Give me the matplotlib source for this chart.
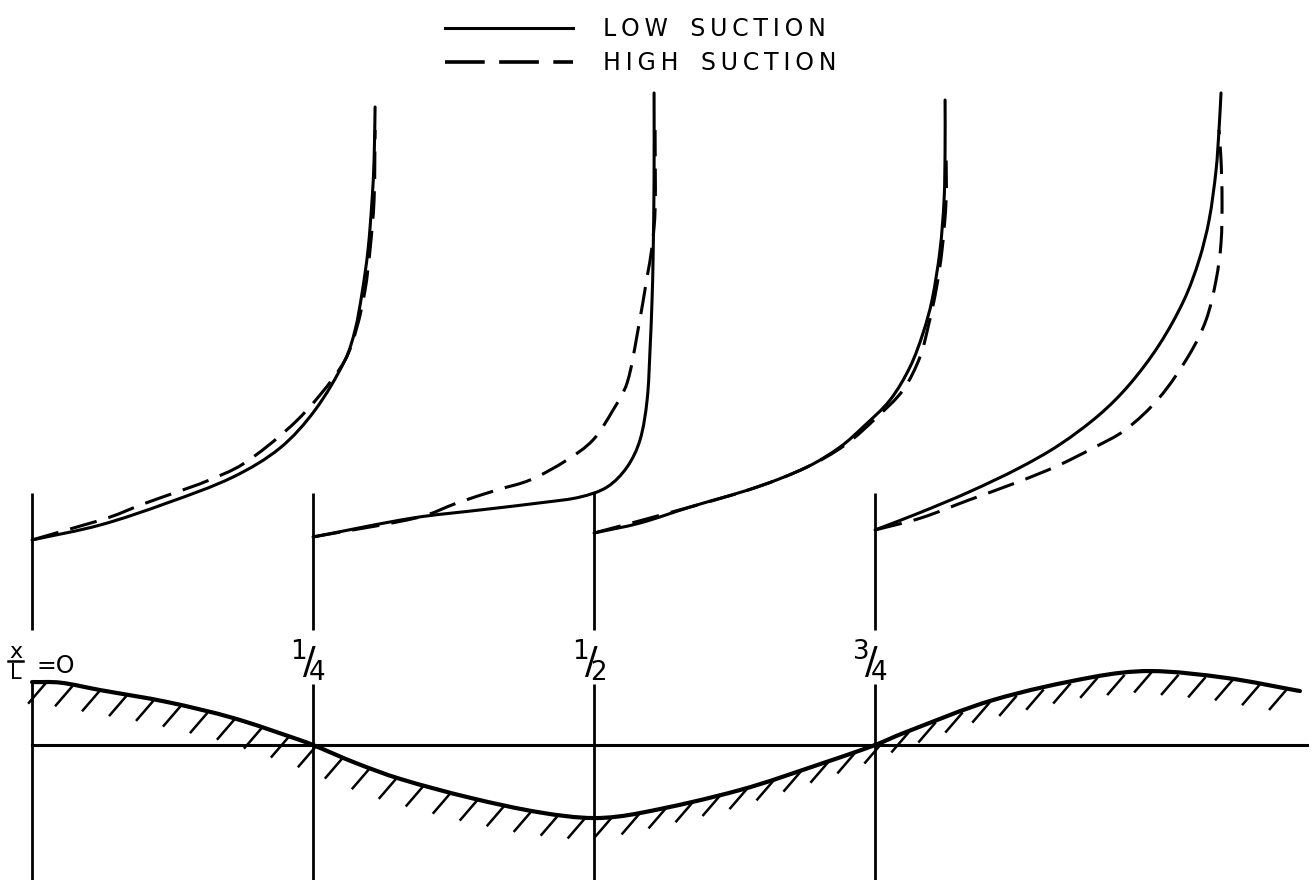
import numpy as np
import matplotlib.pyplot as plt
from matplotlib.lines import Line2D
from matplotlib.path import Path
from matplotlib.patches import PathPatch

# stations along the wall (x/L)
stations = [0.0, 0.25, 0.5, 0.75]
station_labels = [r'$^{1}\!/\!_{4}$', r'$^{1}\!/\!_{2}$', r'$^{3}\!/\!_{4}$']

# wall contour: x/L and height above the datum line (units of L)
wall_x = [0.0, 0.025, 0.0605, 0.120, 0.179, 0.238, 0.25, 0.288, 0.327, 0.39, 0.452, 0.5,
          0.541, 0.63, 0.704, 0.75, 0.775, 0.855, 0.944, 0.995, 1.063, 1.128]
wall_y = [0.056, 0.0555, 0.0489, 0.0383, 0.024, 0.0045, 0.0, -0.016, -0.030, -0.047, -0.060, -0.065,
          -0.0605, -0.040, -0.016, 0.0, 0.0105, 0.040, 0.0605, 0.0658, 0.0596, 0.048]

# profiles: offset u from the station line, height y above datum (units of L)
low0_u = [0, 0.0605, 0.1201, 0.1788, 0.2206, 0.2518, 0.2785, 0.2874, 0.2936, 0.2989, 0.3025, 0.3043, 0.3052]
low0_y = [0.1824, 0.1957, 0.2153, 0.2384, 0.2642, 0.2980, 0.3425, 0.3692, 0.4021, 0.4404, 0.4849, 0.5205, 0.5676]
high0_u = [0, 0.0276, 0.0694, 0.0988, 0.1290, 0.1557, 0.1877, 0.2295, 0.2562, 0.2785, 0.2891, 0.2963, 0.3007, 0.3043, 0.3052]
high0_y = [0.1824, 0.1904, 0.2028, 0.2144, 0.2251, 0.2349, 0.2500, 0.2829, 0.3114, 0.3425, 0.3719, 0.4048, 0.4404, 0.4849, 0.5472]

low1_u = [0, 0.0890, 0.1486, 0.2082, 0.2375, 0.2616, 0.2794, 0.2909, 0.2972, 0.2998, 0.3016, 0.3025, 0.3034, 0.3034]
low1_y = [0.1851, 0.2020, 0.2091, 0.2162, 0.2206, 0.2295, 0.2473, 0.2714, 0.3069, 0.3514, 0.3959, 0.4315, 0.5027, 0.5801]
high1_u = [0, 0.0952, 0.1281, 0.1637, 0.1931, 0.2260, 0.2491, 0.2669, 0.2794, 0.2891, 0.2972, 0.3016, 0.3043, 0.3043]
high1_y = [0.1851, 0.2028, 0.2153, 0.2269, 0.2358, 0.2536, 0.2714, 0.2980, 0.3221, 0.3692, 0.4164, 0.4431, 0.4760, 0.5472]

low2_u = [0, 0.0409, 0.0854, 0.1450, 0.1895, 0.2189, 0.2393, 0.2633, 0.2811, 0.2927, 0.3007, 0.3078, 0.3114, 0.3123, 0.3123]
low2_y = [0.1886, 0.1975, 0.2117, 0.2295, 0.2473, 0.2651, 0.2829, 0.3069, 0.3363, 0.3665, 0.3959, 0.4404, 0.4849, 0.5294, 0.5738]
high2_u = [0, 0.0854, 0.1450, 0.1895, 0.2233, 0.2518, 0.2749, 0.2900, 0.2972, 0.3043, 0.3096, 0.3132, 0.3132]
high2_y = [0.1886, 0.2117, 0.2295, 0.2473, 0.2669, 0.2918, 0.3158, 0.3452, 0.3719, 0.4048, 0.4404, 0.4849, 0.5294]

low3_u = [0, 0.0391, 0.0836, 0.1281, 0.1637, 0.1993, 0.2260, 0.2527, 0.2749, 0.2883, 0.2972, 0.3034, 0.3060, 0.3078]
low3_y = [0.1913, 0.2064, 0.2251, 0.2464, 0.2669, 0.2936, 0.3203, 0.3559, 0.3959, 0.4315, 0.4671, 0.5116, 0.5472, 0.5801]
high3_u = [0, 0.0409, 0.0836, 0.1272, 0.1619, 0.1940, 0.2224, 0.2527, 0.2794, 0.2945, 0.3034, 0.3078, 0.3087, 0.3078, 0.3060]
high3_y = [0.1913, 0.2020, 0.2180, 0.2340, 0.2482, 0.2642, 0.2802, 0.3087, 0.3470, 0.3781, 0.4137, 0.4466, 0.4849, 0.5205, 0.5472]

low_profiles = [(low0_u, low0_y), (low1_u, low1_y), (low2_u, low2_y), (low3_u, low3_y)]
high_profiles = [(high0_u, high0_y), (high1_u, high1_y), (high2_u, high2_y), (high3_u, high3_y)]


def smooth_path(x, y):
    # bezier path through the read points, tangents scaled by chord length
    p = np.column_stack([x, y]).astype(float)
    d = np.diff(p, axis=0)
    seg = np.hypot(d[:, 0], d[:, 1])
    t = np.zeros_like(p)
    t[1:-1] = p[2:] - p[:-2]
    t[0] = d[0]
    t[-1] = d[-1]
    t = t / np.hypot(t[:, 0], t[:, 1])[:, None]
    verts = [p[0]]
    codes = [Path.MOVETO]
    for i in range(len(p) - 1):
        verts += [p[i] + t[i] * seg[i] / 3, p[i + 1] - t[i + 1] * seg[i] / 3, p[i + 1]]
        codes += [Path.CURVE4] * 3
    return Path(verts, codes)


fig = plt.figure(figsize=(13.16, 8.8), dpi=100)
ax = fig.add_axes([0, 0, 1, 1])
ax.set_xlim(-0.0285, 1.1423)
ax.set_ylim(-0.1201, 0.6628)
ax.axis('off')

ink = 'black'
dash = (0, (9, 4))

# station lines, broken for the labels
for i, s in enumerate(stations):
    ax.plot([s, s], [0.2245, 0.102], color=ink, lw=2.0, solid_capstyle='butt')
    ax.plot([s, s], [0.057 if i == 0 else 0.054, -0.12], color=ink, lw=2.0, solid_capstyle='butt')

# datum line
ax.plot([0, 1.134], [0, 0], color=ink, lw=2.2)

# wall with hatching underneath
ax.add_patch(PathPatch(smooth_path(wall_x, wall_y), fill=False, edgecolor=ink, lw=3.0,
                       joinstyle='round', capstyle='round'))
hx = np.arange(0.012, 1.12, 0.024)
hy = np.interp(hx, wall_x, wall_y)
for x, y in zip(hx, hy):
    ax.plot([x - 0.0155, x], [y - 0.019, y - 0.001], color=ink, lw=1.8, solid_capstyle='butt')

# velocity profiles
for s, (u, y) in zip(stations, low_profiles):
    ax.add_patch(PathPatch(smooth_path(s + np.array(u), y), fill=False, edgecolor=ink,
                           lw=2.2, capstyle='round'))
for s, (u, y) in zip(stations, high_profiles):
    ax.add_patch(PathPatch(smooth_path(s + np.array(u), y), fill=False, edgecolor=ink,
                           lw=2.2, linestyle=dash, capstyle='butt'))

# station labels
ax.text(-0.0142, 0.0830, 'x', fontsize=16, ha='center', va='center', color=ink)
ax.plot([-0.021, -0.008], [0.0745, 0.0745], color=ink, lw=1.8)
ax.text(-0.0142, 0.0640, 'L', fontsize=15, ha='center', va='center', color=ink)
ax.text(0.021, 0.0705, '=O', fontsize=17, ha='center', va='center', color=ink)
for s, lab in zip(stations[1:], station_labels):
    ax.text(s - 0.004, 0.075, lab, fontsize=27, ha='center', va='center', color=ink)


def spaced(word):
    return '\u2009'.join(word)


handles = [Line2D([], [], color=ink, lw=2.2),
           Line2D([], [], color=ink, lw=2.6, linestyle=(0, (11, 4)))]
ax.legend(handles, [spaced('LOW') + '   ' + spaced('SUCTION'),
                    spaced('HIGH') + '   ' + spaced('SUCTION')],
          loc='upper left', bbox_to_anchor=(0.322, 1.005), frameon=False, fontsize=17,
          handlelength=5.4, handletextpad=1.3, labelspacing=0.45)

fig.savefig('out.png', dpi=100)
